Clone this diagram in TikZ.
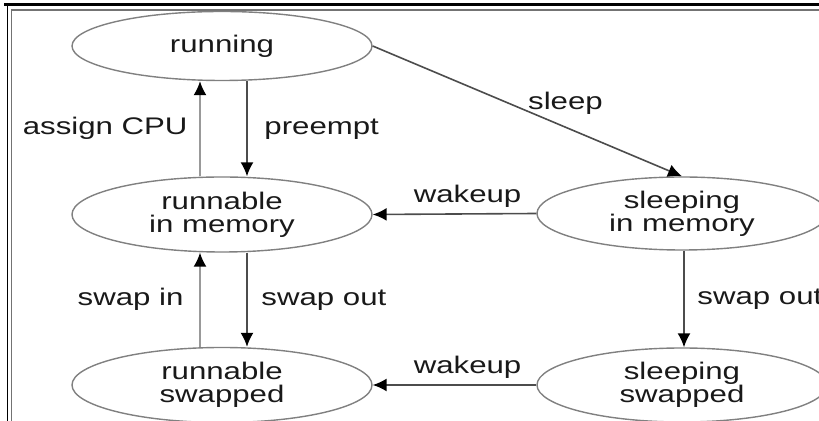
\documentclass[tikz,border=0pt]{standalone}
\usepackage{fontspec}
\setmainfont{Liberation Sans}[FakeStretch=1.3]
\usetikzlibrary{shapes.geometric,arrows.meta}

\begin{document}
\begin{tikzpicture}[x=0.5pt,y=-0.5pt,
  state/.style={draw=black!50, line width=0.7pt, ellipse, inner sep=0pt, align=center,
    text=black!90, font=\fontsize{12}{11.5}\selectfont},
  down/.style={draw=black!70, line width=0.8pt, -{Latex[length=7pt,width=6.5pt,color=black]}},
  up/.style={down, draw=black!40},
  lbl/.style={text=black!90, font=\fontsize{12}{11.5}\selectfont}]
  \useasboundingbox (0,0) rectangle (819,421);
  % draw double frame
  \draw[line width=1.5pt] (4,4.5) -- (819,4.5);
  \draw[line width=0.8pt] (7.5,4.5) -- (7.5,421);
  \draw[black!55, line width=0.8pt] (11.3,9.8) -- (819,9.8);
  \draw[black!55, line width=0.8pt] (11.3,9.8) -- (11.3,421);
  % states
  \node[state, minimum width=150pt, minimum height=34.5pt] (run) at (222,46) {running};
  \node[state, minimum width=150pt, minimum height=37.5pt] (mem) at (222,214.5) {runnable\\in memory};
  \node[state, minimum width=150pt, minimum height=37.5pt] (swp) at (222,385) {runnable\\swapped};
  \node[state, minimum width=145pt, minimum height=36.5pt] (slm) at (682,213.5) {sleeping\\in memory};
  \node[state, minimum width=145pt, minimum height=37pt] (sls) at (682,385) {sleeping\\swapped};
  % transitions
  \draw[down] (run.east) -- node[lbl, pos=0.5, above right, inner sep=0pt, yshift=-2pt] {sleep} (slm.north);
  \draw[down] ([xshift=12.5pt]run.south) -- node[lbl, right=5pt] {preempt} ([xshift=12.5pt]mem.north);
  \draw[up] ([xshift=-11pt]mem.north) -- node[lbl, left=2.5pt] {assign CPU} ([xshift=-11pt]run.south);
  \draw[down] ([xshift=12.5pt]mem.south) -- node[lbl, right=3.5pt] {swap out} ([xshift=12.5pt]swp.north);
  \draw[up] ([xshift=-11pt]swp.north) -- node[lbl, left=4.5pt] {swap in} ([xshift=-11pt]mem.south);
  \draw[down] ([xshift=1pt]slm.south) -- node[lbl, right=3pt] {swap out} ([xshift=1pt]sls.north);
  \draw[down] (slm.west) -- node[lbl, pos=0.42, above, inner sep=3pt] {wakeup} (mem.east);
  \draw[down] (sls.west) -- node[lbl, pos=0.42, above, inner sep=3pt] {wakeup} (swp.east);
\end{tikzpicture}
\end{document}
